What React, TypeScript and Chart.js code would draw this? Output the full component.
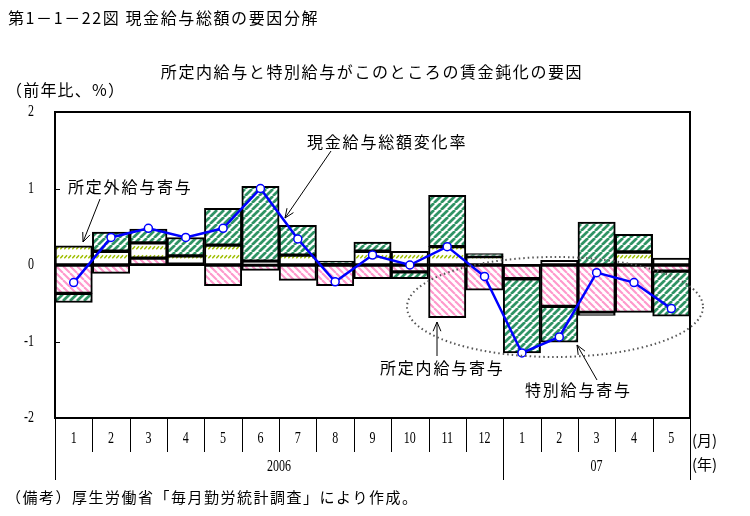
import React, { useEffect, useRef } from 'react';
import { Chart, registerables } from 'chart.js';
Chart.register(...registerables);

const months = ['1', '2', '3', '4', '5', '6', '7', '8', '9', '10', '11', '12', '1', '2', '3', '4', '5'];
const years = ['2006', '07'];
const yearSpans = [12, 5];
const shoteinai = [-0.37, -0.11, 0.09, 0.01, -0.27, -0.07, -0.2, -0.27, -0.18, -0.09, -0.69, -0.33, -0.18, -0.54, -0.62, -0.62, -0.08];
const shoteigai = [0.25, 0.18, 0.2, 0.11, 0.26, 0.05, 0.13, 0.01, 0.18, 0.18, 0.24, 0.11, null, 0.06, -0.04, 0.17, 0.09];
const tokubetsu = [-0.12, 0.25, 0.18, 0.24, 0.48, 0.98, 0.39, 0.04, 0.12, -0.09, 0.67, 0.04, -0.97, -0.47, 0.56, 0.23, -0.59];
const total = [-0.23, 0.36, 0.48, 0.36, 0.48, 1.0, 0.34, -0.22, 0.13, 0.0, 0.24, -0.15, -1.15, -0.94, -0.1, -0.23, -0.57];
const yTicks = [2, 1, 0, -1, -2];

const JP = '"Noto Sans CJK JP", sans-serif';

function makePattern(kind: string): CanvasPattern | string {
  const c = document.createElement('canvas');
  const ctx = c.getContext('2d');
  if (!ctx) return '#fff';
  if (kind === 'green') {
    const s = 7;
    c.width = s; c.height = s;
    ctx.fillStyle = '#fff'; ctx.fillRect(0, 0, s, s);
    ctx.strokeStyle = '#2f9364'; ctx.lineWidth = 2.7;
    for (const o of [-s, 0, s]) {
      ctx.beginPath(); ctx.moveTo(o, s); ctx.lineTo(o + s, 0); ctx.stroke();
    }
  } else if (kind === 'pink') {
    const s = 7;
    c.width = s; c.height = s;
    ctx.fillStyle = '#fff'; ctx.fillRect(0, 0, s, s);
    ctx.strokeStyle = '#ff99cc'; ctx.lineWidth = 2.1;
    for (const o of [-s, 0, s]) {
      ctx.beginPath(); ctx.moveTo(o, 0); ctx.lineTo(o + s, s); ctx.stroke();
    }
  } else {
    c.width = 4; c.height = 9;
    ctx.fillStyle = '#fff'; ctx.fillRect(0, 0, 4, 9);
    ctx.strokeStyle = '#9fbf00'; ctx.lineWidth = 1.5;
    ctx.beginPath(); ctx.moveTo(0.3, 6.2); ctx.lineTo(3, 3.3); ctx.stroke();
  }
  return ctx.createPattern(c, 'repeat') || '#fff';
}

function arrow(ctx: CanvasRenderingContext2D, x1: number, y1: number, x2: number, y2: number) {
  ctx.save();
  ctx.strokeStyle = '#000';
  ctx.lineWidth = 1;
  ctx.beginPath(); ctx.moveTo(x1, y1); ctx.lineTo(x2, y2); ctx.stroke();
  const a = Math.atan2(y2 - y1, x2 - x1);
  const L = 10;
  ctx.beginPath();
  ctx.moveTo(x2 - L * Math.cos(a - 0.4), y2 - L * Math.sin(a - 0.4));
  ctx.lineTo(x2, y2);
  ctx.lineTo(x2 - L * Math.cos(a + 0.4), y2 - L * Math.sin(a + 0.4));
  ctx.stroke();
  ctx.restore();
}

function jpText(ctx: CanvasRenderingContext2D, s: string, x: number, y: number, size: number, spacing: number, align: CanvasTextAlign = 'left') {
  ctx.save();
  ctx.font = `${size}px ${JP}`;
  (ctx as any).letterSpacing = `${spacing}px`;
  ctx.fillStyle = '#000';
  ctx.textAlign = align;
  ctx.textBaseline = 'middle';
  ctx.fillText(s, x, y);
  ctx.restore();
}

function numText(ctx: CanvasRenderingContext2D, s: string, x: number, y: number, align: CanvasTextAlign) {
  ctx.save();
  ctx.translate(x, y);
  ctx.scale(0.75, 1);
  ctx.font = '16px "Liberation Serif", serif';
  ctx.fillStyle = '#000';
  ctx.textAlign = align;
  ctx.textBaseline = 'middle';
  ctx.fillText(s, 0, 0);
  ctx.restore();
}

const decorPlugin = {
  id: 'decor',
  beforeDatasetDraw(chart: any, args: any) {
    if (args.meta.type !== 'line') return;
    const { ctx, chartArea } = chart;
    const y0 = chart.scales.y.getPixelForValue(0);
    ctx.save();
    ctx.strokeStyle = '#000';
    ctx.lineWidth = 2;
    ctx.beginPath(); ctx.moveTo(chartArea.left, y0); ctx.lineTo(chartArea.right, y0); ctx.stroke();
    ctx.restore();
  },
  afterDraw(chart: any) {
    const { ctx, chartArea } = chart;
    const { left, right, top, bottom } = chartArea;
    const ys = chart.scales.y;
    const n = months.length;
    const bin = (right - left) / n;

    ctx.save();
    ctx.strokeStyle = '#000';
    ctx.lineWidth = 2;
    ctx.strokeRect(left, top, right - left, bottom - top);
    ctx.lineWidth = 1;
    for (const t of yTicks) {
      const y = Math.round(ys.getPixelForValue(t)) + 0.5;
      ctx.beginPath(); ctx.moveTo(left, y); ctx.lineTo(left + 5, y); ctx.stroke();
      numText(ctx, String(t), 34, ys.getPixelForValue(t), 'right');
    }
    const monthBottom = bottom + 34;
    const yearBottom = bottom + 62;
    let idx = 0;
    const yearStarts: number[] = [0];
    yearSpans.forEach((s) => { idx += s; yearStarts.push(idx); });
    for (let i = 0; i <= n; i++) {
      const x = Math.round(left + i * bin) + 0.5;
      const full = yearStarts.includes(i);
      ctx.beginPath(); ctx.moveTo(x, bottom); ctx.lineTo(x, full ? yearBottom : monthBottom); ctx.stroke();
    }
    for (let i = 0; i < n; i++) {
      numText(ctx, months[i], left + (i + 0.5) * bin, bottom + 21, 'center');
    }
    for (let k = 0; k < years.length; k++) {
      const cx = left + ((yearStarts[k] + yearStarts[k + 1]) / 2) * bin;
      numText(ctx, years[k], cx, bottom + 49, 'center');
    }
    jpText(ctx, '(月)', right + 2, bottom + 22, 15, 0);
    jpText(ctx, '(年)', right + 2, bottom + 46, 15, 0);
    ctx.restore();

    jpText(ctx, '第1－1－22図 現金給与総額の要因分解', 8, 18, 16, 1.6);
    jpText(ctx, '所定内給与と特別給与がこのところの賃金鈍化の要因', 372, 72, 16, 1.6, 'center');
    jpText(ctx, '（前年比、%）', 6, 90, 16, 1.2);
    jpText(ctx, '所定外給与寄与', 68, 187, 16, 1.8);
    jpText(ctx, '現金給与総額変化率', 307, 142, 16, 1.8);
    jpText(ctx, '所定内給与寄与', 380, 368, 16, 1.8);
    jpText(ctx, '特別給与寄与', 525, 390, 16, 1.8);
    jpText(ctx, '（備考）厚生労働省「毎月勤労統計調査」により作成。', 6, 497, 15, 1.5);

    arrow(ctx, 100, 199, 83, 242);
    arrow(ctx, 331, 151, 285, 218);
    arrow(ctx, 437, 356, 437, 322);
    arrow(ctx, 597, 380, 577, 345);

    ctx.save();
    ctx.strokeStyle = '#555';
    ctx.lineWidth = 2;
    ctx.setLineDash([1.5, 3]);
    ctx.beginPath();
    ctx.ellipse(555, 307, 148, 50, 0, 0, Math.PI * 2);
    ctx.stroke();
    ctx.restore();
  },
};

export default function App() {
  const ref = useRef<HTMLCanvasElement | null>(null);
  useEffect(() => {
    if (!ref.current) return;
    const pink = makePattern('pink');
    const green = makePattern('green');
    const yellow = makePattern('yellow');
    const barCommon = {
      borderColor: '#000',
      borderWidth: 2,
      borderSkipped: false as const,
      barPercentage: 1,
      categoryPercentage: 1,
      stack: 's',
      order: 1,
    };
    const chart = new Chart(ref.current, {
      type: 'bar',
      data: {
        labels: months,
        datasets: [
          { ...barCommon, label: '所定内給与寄与', data: shoteinai, backgroundColor: pink },
          { ...barCommon, label: '所定外給与寄与', data: shoteigai, backgroundColor: yellow },
          { ...barCommon, label: '特別給与寄与', data: tokubetsu, backgroundColor: green },
          {
            type: 'line',
            label: '現金給与総額変化率',
            data: total,
            borderColor: '#0000ff',
            borderWidth: 2.5,
            pointRadius: 4,
            pointBackgroundColor: '#ffffff',
            pointBorderColor: '#0000ff',
            pointBorderWidth: 1.5,
            tension: 0,
            order: 0,
          } as any,
        ],
      },
      options: {
        responsive: false,
        animation: false,
        layout: { padding: { left: 55, right: 60, top: 112, bottom: 98 } },
        scales: {
          x: { display: false, stacked: true },
          y: { display: false, stacked: true, min: -2, max: 2 },
        },
        plugins: { legend: { display: false }, tooltip: { enabled: false } },
      },
      plugins: [decorPlugin],
    });
    return () => chart.destroy();
  }, []);
  return (
    <div style={{ position: 'absolute', left: 0, top: 0, width: 750, height: 516, background: '#fff' }}>
      <canvas ref={ref} width={750} height={516} style={{ display: 'block' }} />
    </div>
  );
}
